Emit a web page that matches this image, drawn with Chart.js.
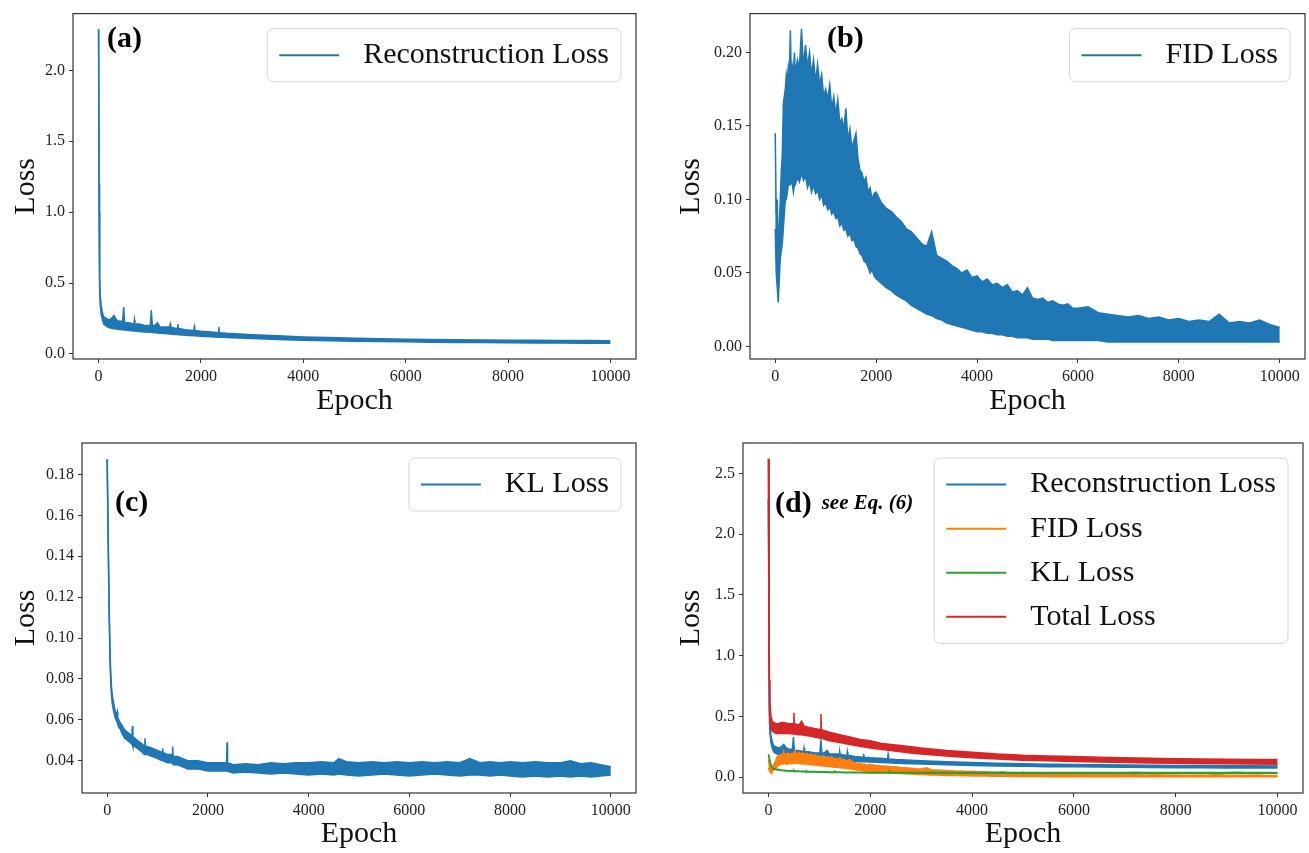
<!DOCTYPE html>
<html>
<head>
<meta charset="utf-8">
<script src="https://cdn.jsdelivr.net/npm/chart.js@4.4.0/dist/chart.umd.min.js"></script>
<style>
  html, body { margin: 0; padding: 0; background: #fff; }
  #wrap { position: relative; width: 1309px; height: 853px; }
  canvas { position: absolute; }
</style>
</head>
<body>
<div id="wrap">
  <canvas id="chartA" width="654" height="426" style="left:0px;top:0px"></canvas>
  <canvas id="chartB" width="655" height="426" style="left:654px;top:0px"></canvas>
  <canvas id="chartC" width="654" height="427" style="left:0px;top:426px"></canvas>
  <canvas id="chartD" width="655" height="427" style="left:654px;top:426px"></canvas>
</div>
<script>
// x axis (shared)
const xTicks = [0, 2000, 4000, 6000, 8000, 10000]
const xLabels = ['0', '2000', '4000', '6000', '8000', '10000']

// (a) reconstruction loss - lower / upper edge of the noisy band
const reconEpochs = [0, 10, 20, 30, 50, 75, 100, 150, 200, 250, 300, 350, 400, 470, 490, 510, 600, 690, 700, 710,
  800, 900, 1010, 1030, 1050, 1100, 1150, 1200, 1300, 1390, 1400, 1410, 1500, 1540, 1550, 1560, 1700, 1860, 1870, 1880,
  2000, 2200, 2340, 2350, 2360, 2500, 3000, 3500, 4000, 4500, 5000, 5500, 6000, 6500, 7000, 7500, 8000, 8500, 9000, 9500, 10000]
const reconHigh = [2.29, 1.20, 0.55, 0.42, 0.34, 0.29, 0.26, 0.25, 0.24, 0.25, 0.27, 0.24, 0.23, 0.23, 0.33, 0.22, 0.22, 0.21, 0.24, 0.21,
  0.21, 0.20, 0.20, 0.31, 0.20, 0.20, 0.22, 0.19, 0.19, 0.19, 0.21, 0.19, 0.18, 0.18, 0.21, 0.18, 0.17, 0.165, 0.19, 0.165,
  0.16, 0.155, 0.15, 0.19, 0.15, 0.145, 0.135, 0.128, 0.12, 0.115, 0.11, 0.107, 0.104, 0.102, 0.10, 0.098, 0.097, 0.096, 0.095, 0.094, 0.093]
const reconLow = [2.29, 1.00, 0.45, 0.36, 0.28, 0.24, 0.21, 0.195, 0.185, 0.18, 0.178, 0.175, 0.172, 0.17, 0.17, 0.168, 0.165, 0.162, 0.162, 0.161,
  0.158, 0.155, 0.152, 0.152, 0.151, 0.15, 0.148, 0.146, 0.143, 0.14, 0.14, 0.14, 0.137, 0.136, 0.136, 0.135, 0.132, 0.128, 0.128, 0.128,
  0.125, 0.121, 0.118, 0.118, 0.118, 0.115, 0.108, 0.102, 0.097, 0.093, 0.09, 0.087, 0.085, 0.083, 0.081, 0.08, 0.078, 0.077, 0.076, 0.075, 0.075]

// (b) FID loss
const fidEpochs = [0, 20, 40, 60, 80, 100, 120, 140, 160, 180, 200, 220, 240, 260, 280, 300, 320, 340, 360, 380,
  400, 440, 480, 520, 560, 600, 640, 680, 720, 760, 800, 840, 880, 920, 960, 1000, 1040, 1080, 1120, 1160,
  1200, 1240, 1280, 1320, 1360, 1400, 1440, 1480, 1520, 1560, 1600, 1640, 1680, 1720, 1760, 1800, 1840, 1880, 1920, 1960,
  2000, 2100, 2200, 2300, 2400, 2500, 2600, 2700, 2800, 2900, 3000, 3100, 3200, 3300, 3400, 3500, 3600, 3700, 3800, 3900,
  4000, 4100, 4200, 4300, 4400, 4500, 4600, 4700, 4800, 4900, 5000, 5100, 5200, 5300, 5400, 5500, 5600, 5700, 5800, 5900,
  6000, 6200, 6400, 6600, 6800, 7000, 7200, 7400, 7600, 7800, 8000, 8200, 8400, 8600, 8800, 9000, 9200, 9400, 9600, 9800, 10000]
const fidHigh = [0.145, 0.09, 0.10, 0.065, 0.08, 0.10, 0.12, 0.13, 0.165, 0.17, 0.175, 0.185, 0.18, 0.19, 0.185, 0.215, 0.18, 0.19, 0.185, 0.20,
  0.185, 0.195, 0.19, 0.216, 0.19, 0.205, 0.19, 0.20, 0.185, 0.195, 0.18, 0.192, 0.178, 0.185, 0.17, 0.175, 0.168, 0.178, 0.162, 0.17,
  0.158, 0.168, 0.152, 0.155, 0.148, 0.162, 0.14, 0.148, 0.135, 0.14, 0.145, 0.128, 0.12, 0.118, 0.112, 0.115, 0.105, 0.108, 0.10, 0.104,
  0.105, 0.098, 0.094, 0.092, 0.088, 0.085, 0.08, 0.078, 0.074, 0.07, 0.068, 0.078, 0.062, 0.06, 0.058, 0.055, 0.053, 0.05, 0.052, 0.047,
  0.048, 0.044, 0.046, 0.042, 0.043, 0.04, 0.042, 0.037, 0.038, 0.035, 0.04, 0.033, 0.032, 0.033, 0.03, 0.031, 0.029, 0.028, 0.029, 0.026,
  0.026, 0.027, 0.023, 0.022, 0.021, 0.02, 0.021, 0.019, 0.02, 0.018, 0.019, 0.017, 0.018, 0.017, 0.022, 0.016, 0.017, 0.016, 0.018, 0.015, 0.013]
const fidLow = [0.08, 0.05, 0.04, 0.03, 0.045, 0.06, 0.065, 0.07, 0.08, 0.09, 0.10, 0.10, 0.105, 0.11, 0.11, 0.11, 0.115, 0.11, 0.105, 0.11,
  0.11, 0.115, 0.112, 0.118, 0.113, 0.116, 0.108, 0.112, 0.105, 0.11, 0.104, 0.106, 0.10, 0.103, 0.096, 0.098, 0.093, 0.095, 0.09, 0.092,
  0.087, 0.088, 0.082, 0.084, 0.079, 0.08, 0.075, 0.077, 0.072, 0.073, 0.068, 0.067, 0.063, 0.062, 0.058, 0.057, 0.054, 0.05, 0.052, 0.048,
  0.046, 0.043, 0.04, 0.038, 0.035, 0.033, 0.031, 0.028, 0.026, 0.024, 0.022, 0.021, 0.019, 0.018, 0.016, 0.015, 0.014, 0.013, 0.012, 0.011,
  0.01, 0.01, 0.009, 0.009, 0.008, 0.008, 0.007, 0.007, 0.006, 0.006, 0.006, 0.005, 0.005, 0.005, 0.005, 0.004, 0.004, 0.004, 0.004, 0.004,
  0.004, 0.004, 0.004, 0.003, 0.003, 0.003, 0.003, 0.003, 0.003, 0.003, 0.003, 0.003, 0.003, 0.003, 0.003, 0.003, 0.003, 0.003, 0.003, 0.003, 0.003]

// (c) KL loss
const klEpochs = [0, 20, 40, 60, 80, 100, 130, 160, 190, 200, 210, 250, 300, 350, 400, 450, 490, 500, 510, 550,
  600, 650, 700, 740, 750, 760, 800, 900, 1000, 1090, 1100, 1110, 1200, 1290, 1300, 1310, 1400, 1500, 1600, 1800,
  2000, 2200, 2370, 2380, 2390, 2500, 2750, 3000, 3250, 3500, 3750, 4000, 4250, 4500, 4600, 4750, 5000, 5250, 5500, 5750,
  6000, 6250, 6500, 6750, 7000, 7200, 7400, 7600, 7800, 8000, 8250, 8500, 8750, 9000, 9200, 9400, 9600, 9800, 10000]
const klHigh = [0.1875, 0.15, 0.115, 0.09, 0.078, 0.072, 0.068, 0.064, 0.063, 0.064, 0.061, 0.059, 0.057, 0.055, 0.054, 0.053, 0.052, 0.057, 0.052, 0.051,
  0.050, 0.049, 0.048, 0.047, 0.051, 0.047, 0.047, 0.046, 0.045, 0.044, 0.046, 0.044, 0.043, 0.043, 0.047, 0.042, 0.042, 0.041, 0.040, 0.040,
  0.039, 0.039, 0.039, 0.049, 0.039, 0.038, 0.0385, 0.038, 0.039, 0.0385, 0.039, 0.039, 0.0395, 0.039, 0.041, 0.0395, 0.039, 0.0395, 0.039, 0.0395,
  0.039, 0.0395, 0.039, 0.0395, 0.039, 0.041, 0.039, 0.0395, 0.039, 0.0395, 0.039, 0.0395, 0.039, 0.039, 0.040, 0.0385, 0.039, 0.038, 0.037]
const klLow = [0.1875, 0.145, 0.11, 0.085, 0.074, 0.068, 0.064, 0.061, 0.059, 0.059, 0.058, 0.056, 0.053, 0.051, 0.050, 0.049, 0.048, 0.048, 0.047, 0.047,
  0.046, 0.045, 0.044, 0.043, 0.043, 0.043, 0.043, 0.042, 0.041, 0.040, 0.040, 0.040, 0.039, 0.039, 0.039, 0.038, 0.038, 0.037, 0.036, 0.036,
  0.035, 0.035, 0.035, 0.035, 0.035, 0.034, 0.0345, 0.034, 0.0335, 0.034, 0.0335, 0.033, 0.0335, 0.033, 0.0335, 0.033, 0.0325, 0.033, 0.0335, 0.033,
  0.0325, 0.033, 0.0335, 0.033, 0.0325, 0.033, 0.033, 0.0325, 0.033, 0.0325, 0.032, 0.0325, 0.032, 0.0325, 0.032, 0.0325, 0.032, 0.0325, 0.033]

// (d) total loss (the other three curves reuse the arrays above)
const totalEpochs = [0, 10, 20, 30, 50, 75, 100, 150, 200, 250, 300, 400, 490, 500, 510, 600, 650, 700, 800, 900,
  1020, 1030, 1040, 1200, 1400, 1600, 1800, 2000, 2200, 2400, 2600, 2800, 3000, 3500, 4000, 4500, 5000, 5500, 6000, 6500,
  7000, 7500, 8000, 8500, 9000, 9500, 10000]
const totalHigh = [2.62, 1.5, 0.8, 0.6, 0.5, 0.46, 0.45, 0.44, 0.44, 0.45, 0.45, 0.44, 0.44, 0.53, 0.44, 0.43, 0.46, 0.42, 0.41, 0.40,
  0.39, 0.52, 0.39, 0.37, 0.35, 0.33, 0.31, 0.30, 0.28, 0.27, 0.26, 0.25, 0.24, 0.22, 0.205, 0.19, 0.18, 0.175, 0.17, 0.165,
  0.16, 0.155, 0.152, 0.15, 0.148, 0.146, 0.145]
const totalLow = [2.62, 1.2, 0.6, 0.45, 0.4, 0.38, 0.37, 0.36, 0.36, 0.36, 0.36, 0.36, 0.355, 0.355, 0.355, 0.35, 0.35, 0.345, 0.34, 0.33,
  0.32, 0.32, 0.32, 0.30, 0.285, 0.27, 0.255, 0.24, 0.23, 0.22, 0.21, 0.20, 0.19, 0.175, 0.16, 0.15, 0.14, 0.135, 0.13, 0.125,
  0.12, 0.117, 0.115, 0.112, 0.11, 0.108, 0.107]

// y ticks for each panel
const aYTicks = [0, 0.5, 1.0, 1.5, 2.0]
const aYLabels = ['0.0', '0.5', '1.0', '1.5', '2.0']
const bYTicks = [0, 0.05, 0.10, 0.15, 0.20]
const bYLabels = ['0.00', '0.05', '0.10', '0.15', '0.20']
const cYTicks = [0.04, 0.06, 0.08, 0.10, 0.12, 0.14, 0.16, 0.18]
const cYLabels = ['0.04', '0.06', '0.08', '0.10', '0.12', '0.14', '0.16', '0.18']
const dYTicks = [0, 0.5, 1.0, 1.5, 2.0, 2.5]
const dYLabels = ['0.0', '0.5', '1.0', '1.5', '2.0', '2.5']

const serif = "'Liberation Serif', 'Times New Roman', serif"
const BLUE = '#1f77b4', ORANGE = '#ff7f0e', GREEN = '#2ca02c', RED = '#d62728'

// band = lower line + upper line filled down to it
function band(epochs, low, high, color, order) {
  return [
    { data: epochs.map((e, i) => ({ x: e, y: low[i] })), borderColor: color, borderWidth: 1.5,
      pointRadius: 0, fill: false, order: order },
    { data: epochs.map((e, i) => ({ x: e, y: high[i] })), borderColor: color, backgroundColor: color, borderWidth: 1.5,
      pointRadius: 0, fill: '-1', order: order }
  ]
}

// frame around the plot area (all four spines)
const frame = {
  id: 'frame',
  afterDatasetsDraw(chart) {
    const a = chart.chartArea, ctx = chart.ctx
    ctx.save()
    ctx.strokeStyle = '#333'
    ctx.lineWidth = 1.2
    ctx.strokeRect(a.left, a.top, a.right - a.left, a.bottom - a.top)
    ctx.restore()
  }
}

// (a), (b) ... labels
const panelText = {
  id: 'panelText',
  afterDatasetsDraw(chart, args, opts) {
    const a = chart.chartArea, ctx = chart.ctx
    ctx.save()
    ctx.fillStyle = '#000'
    ctx.textBaseline = 'middle'
    ctx.textAlign = 'left'
    ctx.font = 'bold 30px ' + serif
    const x = a.left + opts.dx, y = a.top + opts.dy
    ctx.fillText(opts.text, x, y)
    if (opts.note) {
      const w = ctx.measureText(opts.text).width + 10
      ctx.font = 'italic bold 21px ' + serif
      ctx.fillText(opts.note, x + w, y)
    }
    ctx.restore()
  }
}

// matplotlib-like legend in the upper right corner
const boxLegend = {
  id: 'boxLegend',
  afterDraw(chart, args, opts) {
    const a = chart.chartArea, ctx = chart.ctx
    const fs = opts.fontSize, items = opts.items, n = items.length
    ctx.save()
    ctx.font = fs + 'px ' + serif
    const pad = 0.4 * fs, handle = 2 * fs, gap = 0.8 * fs, rowGap = 0.5 * fs, rowH = 0.97 * fs
    const textW = Math.max(...items.map(it => ctx.measureText(it.label).width))
    const w = pad * 2 + handle + gap + textW
    const h = pad * 2 + rowH * n + rowGap * (n - 1)
    const x = a.right - 0.5 * fs - w
    const y = a.top + 0.5 * fs
    ctx.fillStyle = 'rgba(255,255,255,0.8)'
    ctx.strokeStyle = '#d6d6d6'
    ctx.lineWidth = 1
    ctx.beginPath()
    ctx.roundRect(x, y, w, h, 0.2 * fs)
    ctx.fill()
    ctx.stroke()
    items.forEach((it, i) => {
      const cy = y + pad + rowH / 2 + i * (rowH + rowGap)
      ctx.strokeStyle = it.color
      ctx.lineWidth = 2
      ctx.beginPath()
      ctx.moveTo(x + pad, cy)
      ctx.lineTo(x + pad + handle, cy)
      ctx.stroke()
      ctx.fillStyle = '#111'
      ctx.textBaseline = 'middle'
      ctx.textAlign = 'left'
      ctx.fillText(it.label, x + pad + handle + gap, cy)
    })
    ctx.restore()
  }
}

function makeChart(id, datasets, p) {
  const ctx = document.getElementById(id).getContext('2d')
  return new Chart(ctx, {
    type: 'line',
    data: { datasets: datasets },
    plugins: [frame, panelText, boxLegend],
    options: {
      responsive: false,
      animation: false,
      devicePixelRatio: 1,
      layout: { padding: { top: p.padTop, right: p.padRight, left: 0, bottom: 0 } },
      plugins: {
        legend: { display: false },
        tooltip: { enabled: false },
        panelText: p.label,
        boxLegend: { fontSize: 30, items: p.legend }
      },
      scales: {
        x: {
          type: 'linear', min: -500, max: 10500,
          afterBuildTicks: s => { s.ticks = xTicks.map(v => ({ value: v })) },
          afterFit: s => { s.height = p.xHeight },
          ticks: { callback: (v, i) => xLabels[i], font: { family: serif, size: 16 }, color: '#222',
            padding: 4, maxRotation: 0, autoSkip: false },
          grid: { drawOnChartArea: false, drawTicks: true, tickLength: 4, color: '#333', lineWidth: 1 },
          border: { display: false },
          title: { display: true, text: 'Epoch', color: '#111', font: { family: serif, size: 30 },
            padding: { top: 0, bottom: p.xTitlePad } }
        },
        y: {
          min: p.yMin, max: p.yMax,
          afterBuildTicks: s => { s.ticks = p.yTicks.map(v => ({ value: v })) },
          afterFit: s => { s.width = p.yWidth },
          ticks: { callback: (v, i) => p.yLabels[i], font: { family: serif, size: 16 }, color: '#222',
            padding: 4, autoSkip: false },
          grid: { drawOnChartArea: false, drawTicks: true, tickLength: 4, color: '#333', lineWidth: 1 },
          border: { display: false },
          title: { display: true, text: 'Loss', color: '#111', font: { family: serif, size: 30 },
            padding: { top: p.yTitlePad, bottom: 0 } }
        }
      }
    }
  })
}

makeChart('chartA', band(reconEpochs, reconLow, reconHigh, BLUE, 0), {
  padTop: 11, padRight: 18, yWidth: 73, xHeight: 67, yTitlePad: 8, xTitlePad: 7,
  yMin: -0.036, yMax: 2.40, yTicks: aYTicks, yLabels: aYLabels,
  label: { text: '(a)', dx: 34, dy: 26 },
  legend: [{ label: 'Reconstruction Loss', color: BLUE }]
})

makeChart('chartB', band(fidEpochs, fidLow, fidHigh, BLUE, 0), {
  padTop: 11, padRight: 4, yWidth: 96, xHeight: 67, yTitlePad: 19, xTitlePad: 7,
  yMin: -0.0085, yMax: 0.2264, yTicks: bYTicks, yLabels: bYLabels,
  label: { text: '(b)', dx: 77, dy: 26 },
  legend: [{ label: 'FID Loss', color: BLUE }]
})

makeChart('chartC', band(klEpochs, klLow, klHigh, BLUE, 0), {
  padTop: 17, padRight: 18, yWidth: 82, xHeight: 60, yTitlePad: 8, xTitlePad: 1,
  yMin: 0.0242, yMax: 0.1954, yTicks: cYTicks, yLabels: cYLabels,
  label: { text: '(c)', dx: 33, dy: 60 },
  legend: [{ label: 'KL Loss', color: BLUE }]
})

makeChart('chartD', [].concat(
  band(reconEpochs, reconLow, reconHigh, BLUE, 3),
  band(fidEpochs, fidLow, fidHigh, ORANGE, 2),
  band(klEpochs, klLow, klHigh, GREEN, 1),
  band(totalEpochs, totalLow, totalHigh, RED, 0)
), {
  padTop: 17, padRight: 6, yWidth: 89, xHeight: 60, yTitlePad: 19, xTitlePad: 1,
  yMin: -0.13, yMax: 2.75, yTicks: dYTicks, yLabels: dYLabels,
  label: { text: '(d)', dx: 32, dy: 61, note: 'see Eq. (6)' },
  legend: [
    { label: 'Reconstruction Loss', color: BLUE },
    { label: 'FID Loss', color: ORANGE },
    { label: 'KL Loss', color: GREEN },
    { label: 'Total Loss', color: RED }
  ]
})
</script>
</body>
</html>
